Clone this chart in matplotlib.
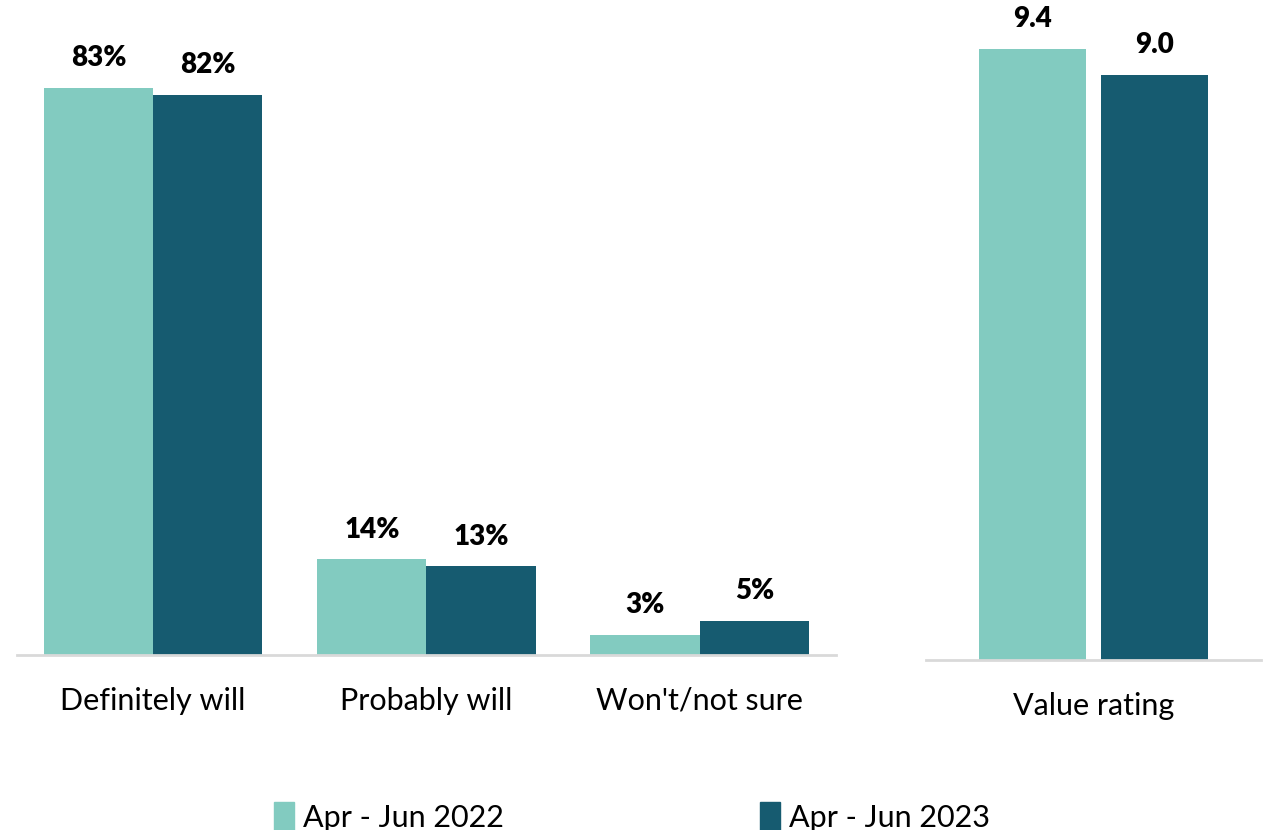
import matplotlib
matplotlib.use("Agg")
import matplotlib.pyplot as plt
from matplotlib.patches import Patch

# Survey data
categories = ["Definitely will", "Probably will", "Won't/not sure"]
pct_2022 = [83, 14, 3]
pct_2023 = [82, 13, 5]

rating_category = ["Value rating"]
rating_2022 = [9.4]
rating_2023 = [9.0]

series_names = ["Apr - Jun 2022", "Apr - Jun 2023"]
color_2022 = "#82CBC0"
color_2023 = "#165B70"
axis_color = "#d9d9d9"

plt.rcParams["font.family"] = ["Lato", "DejaVu Sans"]

fig = plt.figure(figsize=(12.71, 8.30), dpi=100)
W, H = 1271, 830

ax1 = fig.add_axes([16.5 / W, (H - 655) / H, 820 / W, 645 / H])
ax2 = fig.add_axes([926 / W, (H - 660) / H, 335 / W, 650 / H])


def style(ax):
    for s in ("top", "right", "left"):
        ax.spines[s].set_visible(False)
    ax.spines["bottom"].set_color(axis_color)
    ax.spines["bottom"].set_linewidth(2)
    ax.set_yticks([])
    ax.tick_params(axis="x", length=0, pad=23, labelsize=22, colors="black")


def label_bars(ax, bars, values, fmt):
    for b, v in zip(bars, values):
        ax.annotate(fmt.format(v), (b.get_x() + b.get_width() / 2, b.get_height()),
                    xytext=(0, 12), textcoords="offset points",
                    ha="center", va="bottom", fontsize=20, fontweight="heavy")


# Left panel: intention shares
x = list(range(len(categories)))
w = 0.4
b1 = ax1.bar([i - w / 2 for i in x], pct_2022, width=w, color=color_2022)
b2 = ax1.bar([i + w / 2 for i in x], pct_2023, width=w, color=color_2023)
ax1.set_xlim(-0.5, len(categories) - 0.5)
ax1.set_ylim(0, 94.4)
ax1.set_xticks(x)
ax1.set_xticklabels(categories)
style(ax1)
label_bars(ax1, b1, pct_2022, "{:d}%")
label_bars(ax1, b2, pct_2023, "{:d}%")

# Right panel: value rating
wr = 0.32
off = 0.182
r1 = ax2.bar([-off], rating_2022, width=wr, color=color_2022)
r2 = ax2.bar([off], rating_2023, width=wr, color=color_2023)
ax2.set_xlim(-0.5, 0.5)
ax2.set_ylim(0, 10)
ax2.set_xticks([0])
ax2.set_xticklabels(rating_category)
style(ax2)
label_bars(ax2, r1, rating_2022, "{:.1f}")
label_bars(ax2, r2, rating_2023, "{:.1f}")

handles = [Patch(color=color_2022), Patch(color=color_2023)]
fig.legend(handles, series_names, loc="lower center", bbox_to_anchor=(632 / W, -0.035),
           ncol=2, frameon=False, fontsize=22, handlelength=0.65, handleheight=1.0,
           handletextpad=0.3, columnspacing=8.4)

fig.savefig("out.png", dpi=100)
